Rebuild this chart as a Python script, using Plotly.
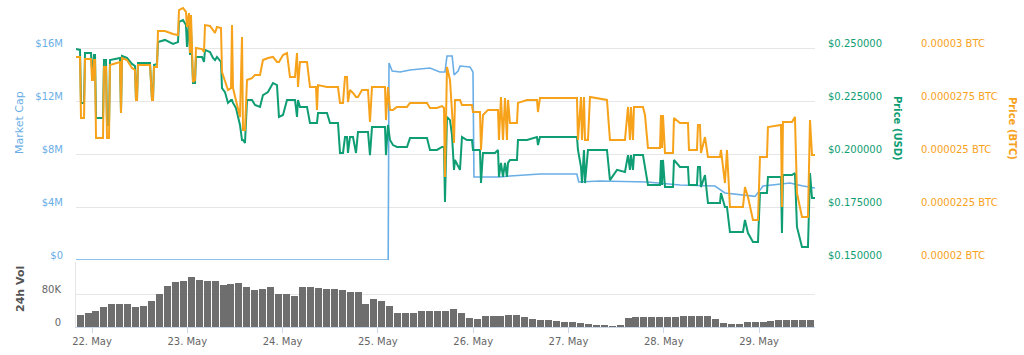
import pandas as pd
import plotly.graph_objects as go

BASE = pd.Timestamp("2018-05-22 00:00")

# hours since 22 May 00:00 (shared by both price series)
price_hours = [-4.03, -3.02, -2.77, -2.01, -1.76, -0.25, 0, 0.25, 0.50, 0.76, 1.01, 2.77, 3.02, 3.53, 3.78, 4.28, 4.53, 7.05, 7.30, 7.56,
               8.81, 10.07, 10.83, 11.08, 11.33, 11.58, 14.61, 15.11, 15.36, 15.61, 16.37, 16.62, 18.38, 19.64, 20.40, 21.66, 21.91, 22.92, 23.67, 23.92,
               24.43, 24.68, 24.93, 25.44, 25.94, 26.19, 27.70, 28.21, 28.46, 29.72, 30.47, 30.98, 31.48, 32.49, 32.74, 33.49, 34.25, 35.01, 35.26, 35.51,
               36.26, 37.27, 37.78, 38.03, 38.53, 39.04, 40.29, 41.05, 42.31, 43.06, 44.32, 45.58, 46.59, 47.09, 48.10, 49.11, 49.86, 51.12, 51.63, 51.88,
               52.38, 54.15, 54.90, 56.41, 56.66, 56.92, 59.18, 59.94, 61.95, 62.46, 63.21, 63.72, 64.22, 64.47, 64.97, 65.73, 66.49, 66.99, 68.00, 69.51,
               70.01, 70.52, 73.79, 74.04, 74.54, 75.05, 75.80, 76.81, 79.33, 80.09, 84.37, 85.12, 86.88, 88.14, 88.65, 88.90, 89.40, 90.16, 90.66, 91.17,
               91.42, 92.68, 93.18, 94.44, 95.70, 95.95, 97.71, 97.97, 98.47, 99.73, 101.49, 102.25, 102.50, 103.00, 103.51, 104.01, 104.51, 104.77, 105.27, 107.03,
               107.28, 109.55, 112.07, 112.32, 112.82, 122.14, 122.39, 123.15, 123.40, 123.91, 124.16, 124.91, 125.42, 129.70, 130.45, 132.22, 134.23, 134.99, 135.49, 135.74,
               136.25, 136.50, 138.76, 139.27, 140.02, 143.05, 143.30, 143.55, 143.80, 144.31, 146.32, 146.57, 148.08, 150.10, 150.35, 152.36, 152.61, 153.12, 153.37, 154.38,
               155.13, 158.16, 158.41, 159.41, 159.92, 160.67, 163.95, 164.45, 165.21, 166.47, 167.73, 168.23, 169.99, 170.24, 173.52, 173.77, 174.02, 176.29, 177.04, 177.55,
               178.81, 180.32, 180.83, 181.34, 182.09]

price_usd = [0.2495, 0.2491, 0.2241, 0.2241, 0.2476, 0.2476, 0.2396, 0.2396, 0.2467, 0.2467, 0.2170, 0.2170, 0.2443, 0.2443, 0.2137, 0.2137, 0.2443, 0.2453, 0.2193, 0.2462,
             0.2453, 0.2425, 0.2415, 0.2255, 0.2255, 0.2429, 0.2429, 0.2255, 0.2255, 0.2420, 0.2425, 0.2528, 0.2538, 0.2524, 0.2519, 0.2528, 0.2623, 0.2632, 0.2608, 0.2505,
             0.2623, 0.2467, 0.2594, 0.2335, 0.2335, 0.2458, 0.2458, 0.2434, 0.2491, 0.2481, 0.2453, 0.2443, 0.2458, 0.2434, 0.2311, 0.2292, 0.2241, 0.2255, 0.2255, 0.2241,
             0.2217, 0.2137, 0.2066, 0.2066, 0.2052, 0.2255, 0.2255, 0.2231, 0.2222, 0.2278, 0.2292, 0.2335, 0.2325, 0.2175, 0.2184, 0.2255, 0.2255, 0.2255, 0.2175, 0.2255,
             0.2222, 0.2222, 0.2146, 0.2146, 0.2146, 0.2193, 0.2193, 0.2146, 0.2146, 0.2005, 0.2005, 0.2080, 0.2080, 0.2005, 0.2080, 0.2080, 0.2005, 0.2104, 0.2104, 0.2104,
             0.1995, 0.2127, 0.2127, 0.1995, 0.2137, 0.2066, 0.2042, 0.2033, 0.2033, 0.2075, 0.2075, 0.2019, 0.2019, 0.2033, 0.2033, 0.1774, 0.2175, 0.2160, 0.2090, 0.1925,
             0.1972, 0.1925, 0.2080, 0.2066, 0.2066, 0.2019, 0.2019, 0.1863, 0.2005, 0.2005, 0.2005, 0.2019, 0.1892, 0.1958, 0.1892, 0.1958, 0.1892, 0.1958, 0.1972, 0.1972,
             0.2066, 0.2066, 0.2080, 0.2042, 0.2080, 0.2080, 0.2019, 0.1939, 0.1863, 0.2019, 0.1863, 0.2019, 0.2019, 0.2019, 0.1877, 0.1925, 0.1915, 0.1995, 0.1925, 0.1995,
             0.1925, 0.1995, 0.1995, 0.1939, 0.1854, 0.1854, 0.1972, 0.1854, 0.1972, 0.1844, 0.1844, 0.1972, 0.1939, 0.1939, 0.1854, 0.1854, 0.1939, 0.1939, 0.1844, 0.1901,
             0.1769, 0.1769, 0.1816, 0.1750, 0.1750, 0.1632, 0.1632, 0.1689, 0.1627, 0.1585, 0.1585, 0.1816, 0.1816, 0.1892, 0.1892, 0.1627, 0.1901, 0.1901, 0.1910, 0.1656,
             0.1561, 0.1561, 0.1910, 0.1792, 0.1792]

price_btc = [2.958e-5, 2.958e-5, 2.670e-5, 2.670e-5, 2.948e-5, 2.948e-5, 2.849e-5, 2.849e-5, 2.943e-5, 2.943e-5, 2.575e-5, 2.575e-5, 2.910e-5, 2.910e-5, 2.575e-5, 2.575e-5, 2.920e-5, 2.934e-5, 2.693e-5, 2.953e-5,
             2.943e-5, 2.906e-5, 2.896e-5, 2.755e-5, 2.755e-5, 2.920e-5, 2.920e-5, 2.755e-5, 2.755e-5, 2.910e-5, 2.910e-5, 3.080e-5, 3.080e-5, 3.071e-5, 3.066e-5, 3.061e-5, 3.179e-5, 3.189e-5, 3.170e-5, 3.099e-5,
             3.165e-5, 2.976e-5, 3.156e-5, 2.840e-5, 2.849e-5, 3.000e-5, 2.995e-5, 2.981e-5, 3.108e-5, 3.104e-5, 3.085e-5, 3.071e-5, 3.099e-5, 3.094e-5, 2.887e-5, 2.849e-5, 2.802e-5, 2.811e-5, 3.108e-5, 2.811e-5,
             2.755e-5, 2.675e-5, 3.052e-5, 2.613e-5, 2.613e-5, 2.849e-5, 2.858e-5, 2.873e-5, 2.873e-5, 2.943e-5, 2.953e-5, 2.958e-5, 2.934e-5, 2.934e-5, 2.967e-5, 2.976e-5, 2.863e-5, 2.863e-5, 2.976e-5, 2.816e-5,
             2.934e-5, 2.934e-5, 2.816e-5, 2.816e-5, 2.708e-5, 2.825e-5, 2.816e-5, 2.816e-5, 2.816e-5, 2.741e-5, 2.741e-5, 2.863e-5, 2.863e-5, 2.745e-5, 2.802e-5, 2.788e-5, 2.769e-5, 2.769e-5, 2.802e-5, 2.802e-5,
             2.651e-5, 2.816e-5, 2.816e-5, 2.660e-5, 2.816e-5, 2.708e-5, 2.708e-5, 2.722e-5, 2.722e-5, 2.741e-5, 2.741e-5, 2.717e-5, 2.717e-5, 2.726e-5, 2.717e-5, 2.392e-5, 2.910e-5, 2.849e-5, 2.675e-5, 2.552e-5,
             2.755e-5, 2.755e-5, 2.731e-5, 2.731e-5, 2.731e-5, 2.698e-5, 2.698e-5, 2.519e-5, 2.684e-5, 2.708e-5, 2.708e-5, 2.708e-5, 2.566e-5, 2.769e-5, 2.566e-5, 2.764e-5, 2.566e-5, 2.755e-5, 2.646e-5, 2.646e-5,
             2.741e-5, 2.755e-5, 2.755e-5, 2.698e-5, 2.764e-5, 2.764e-5, 2.566e-5, 2.769e-5, 2.566e-5, 2.769e-5, 2.566e-5, 2.566e-5, 2.769e-5, 2.755e-5, 2.566e-5, 2.566e-5, 2.566e-5, 2.722e-5, 2.566e-5, 2.722e-5,
             2.566e-5, 2.722e-5, 2.722e-5, 2.684e-5, 2.528e-5, 2.528e-5, 2.684e-5, 2.528e-5, 2.684e-5, 2.505e-5, 2.505e-5, 2.670e-5, 2.646e-5, 2.646e-5, 2.519e-5, 2.519e-5, 2.637e-5, 2.637e-5, 2.505e-5, 2.580e-5,
             2.486e-5, 2.486e-5, 2.519e-5, 2.363e-5, 2.519e-5, 2.250e-5, 2.250e-5, 2.344e-5, 2.297e-5, 2.189e-5, 2.189e-5, 2.486e-5, 2.486e-5, 2.627e-5, 2.637e-5, 2.250e-5, 2.651e-5, 2.651e-5, 2.675e-5, 2.316e-5,
             2.203e-5, 2.203e-5, 2.660e-5, 2.495e-5, 2.495e-5]

mcap_hours = [-4.03, 74.6, 74.8, 75.6, 77.6, 80.1, 82.6, 85.1, 87.6, 88.9, 89.4, 90.7, 91.2, 92.2, 92.7, 95.2, 95.95, 96.2, 102.7, 105.3,
              112.8, 122.1, 122.6, 127.9, 139.8, 148.1, 156.9, 159.4, 167.0, 169.0, 175.8, 178.8, 182.09]
market_cap = [0, 0, 14.87e6, 14.26e6, 14.19e6, 14.34e6, 14.41e6, 14.49e6, 14.19e6, 14.19e6, 15.40e6, 15.40e6, 13.96e6, 14.26e6, 14.64e6, 14.57e6, 14.19e6, 6.26e6, 6.26e6, 6.34e6,
              6.49e6, 6.49e6, 5.89e6, 5.96e6, 5.89e6, 5.66e6, 5.58e6, 5.06e6, 4.80e6, 5.58e6, 5.81e6, 5.60e6, 5.43e6]

vol_hours = list(range(-3, 182, 2))
volume = [28, 33, 40, 49, 55, 55, 55, 49, 50, 62, 80, 100, 109, 112, 122, 115, 112, 111, 102, 104,
          106, 98, 90, 92, 96, 80, 79, 75, 96, 96, 95, 91, 91, 89, 86, 84, 55, 67, 62, 50,
          34, 34, 34, 38, 38, 38, 40, 43, 35, 22, 20, 27, 27, 27, 28, 29, 24, 20, 18, 16,
          14, 12, 12, 9, 8, 5, 4, 1, 6, 22, 24, 24, 24, 24, 24, 25, 27, 27, 27, 26,
          20, 10, 8, 8, 11, 12, 12, 15, 16, 16, 16, 16, 16]
volume = [v * 1000 for v in volume]

mcap_ticks = [0, 4e6, 8e6, 12e6, 16e6]
mcap_labels = ["$0", "$4M", "$8M", "$12M", "$16M"]
usd_ticks = [0.15, 0.175, 0.2, 0.225, 0.25]
usd_labels = ["$0.150000", "$0.175000", "$0.200000", "$0.225000", "$0.250000"]
btc_ticks = [2e-5, 2.25e-5, 2.5e-5, 2.75e-5, 3e-5]
btc_labels = ["0.00002 BTC", "0.0000225 BTC", "0.000025 BTC", "0.0000275 BTC", "0.00003 BTC"]
vol_ticks = [0, 80000]
vol_labels = ["0", "80K"]
day_ticks = [f"2018-05-{d}" for d in range(22, 30)]
day_labels = [f"{d}. May" for d in range(22, 30)]


def ts(hours):
    return BASE + pd.to_timedelta(hours, unit="h")


BLUE = "#6aaee6"
GREEN = "#0f9d74"
ORANGE = "#f7a21b"
FONT = "DejaVu Sans"

fig = go.Figure()
fig.add_trace(go.Scatter(x=ts(mcap_hours), y=market_cap, mode="lines", line=dict(color=BLUE, width=1.6),
                         xaxis="x", yaxis="y", name="Market Cap"))
fig.add_trace(go.Scatter(x=ts(price_hours), y=price_usd, mode="lines", line=dict(color=GREEN, width=2, shape="linear"),
                         xaxis="x", yaxis="y2", name="Price (USD)"))
fig.add_trace(go.Scatter(x=ts(price_hours), y=price_btc, mode="lines", line=dict(color=ORANGE, width=2),
                         xaxis="x", yaxis="y3", name="Price (BTC)"))
fig.add_trace(go.Bar(x=ts(vol_hours), y=volume, width=2 * 3600 * 1000 * 0.88, marker=dict(color="#6e6e6e", line=dict(width=0)),
                     xaxis="x2", yaxis="y4", name="24h Vol"))

W, H = 1024, 355
L, R, T, B = 76, 0, 0, 28
PW, PH = W - L - R, H - T - B
xd = (815 - L) / PW

def fy(px):
    return (H - B - px) / PH

xr = [ts(-4.03), ts(182.09)]
gridc = "#e6e6e6"

fig.update_layout(
    width=W, height=H, margin=dict(l=L, r=R, t=T, b=B),
    paper_bgcolor="white", plot_bgcolor="white", showlegend=False,
    font=dict(family=FONT, size=10, color="#666666"),
    bargap=0,
    xaxis=dict(domain=[0, xd], range=xr, showticklabels=False, showgrid=False, zeroline=False, anchor="y", matches="x2"),
    xaxis2=dict(domain=[0, xd], range=xr, tickvals=day_ticks, ticktext=day_labels, showgrid=False, zeroline=False,
                ticks="outside", ticklen=5, tickcolor="#ccd6eb", showline=True, linecolor="#ccd6eb", linewidth=1,
                tickfont=dict(color="#666666", size=10), anchor="y4"),
    yaxis=dict(domain=[fy(260), fy(2)], range=[0, 16e6 * 258 / 212], tickvals=mcap_ticks, ticktext=mcap_labels,
               showgrid=True, gridcolor=gridc, gridwidth=1, zeroline=False, tickfont=dict(color=BLUE, size=10),
               ticklabelstandoff=12, ticklabelshift=-5),
    yaxis2=dict(overlaying="y", anchor="free", position=xd, side="right", range=[0.15, 0.15 + 0.1 * 258 / 212],
                tickvals=usd_ticks, ticktext=usd_labels, showgrid=False, zeroline=False,
                tickfont=dict(color=GREEN, size=10), ticklabelstandoff=12, ticklabelshift=-5),
    yaxis3=dict(overlaying="y", anchor="free", position=(916 - L) / PW, side="right", range=[2e-5, 2e-5 + 1e-5 * 258 / 212],
                tickvals=btc_ticks, ticktext=btc_labels, showgrid=False, zeroline=False,
                tickfont=dict(color=ORANGE, size=10), ticklabelstandoff=4, ticklabelshift=-5),
    yaxis4=dict(domain=[0, fy(262)], range=[0, 80000 * 65 / 33], tickvals=vol_ticks, ticktext=vol_labels,
                showgrid=True, gridcolor=gridc, zeroline=False, showline=True, linecolor="#e6e6e6",
                tickfont=dict(color="#666666", size=10), ticklabelstandoff=12, ticklabelshift=-5, anchor="x2"),
    annotations=[
        dict(text="Market Cap", x=(20 - L) / PW, y=fy(123), xref="paper", yref="paper", textangle=-90, showarrow=False,
             xanchor="center", yanchor="middle", font=dict(family=FONT, size=11, color=BLUE)),
        dict(text="<b>24h Vol</b>", x=(20 - L) / PW, y=fy(289), xref="paper", yref="paper", textangle=-90, showarrow=False,
             xanchor="center", yanchor="middle", font=dict(family=FONT, size=11, color="#555555")),
        dict(text="<b>Price (USD)</b>", x=(897 - L) / PW, y=fy(128), xref="paper", yref="paper", textangle=90, showarrow=False,
             xanchor="center", yanchor="middle", font=dict(family=FONT, size=10, color=GREEN)),
        dict(text="<b>Price (BTC)</b>", x=(1012 - L) / PW, y=fy(128), xref="paper", yref="paper", textangle=90, showarrow=False,
             xanchor="center", yanchor="middle", font=dict(family=FONT, size=10, color=ORANGE)),
    ],
)

fig.write_html("out.html")
